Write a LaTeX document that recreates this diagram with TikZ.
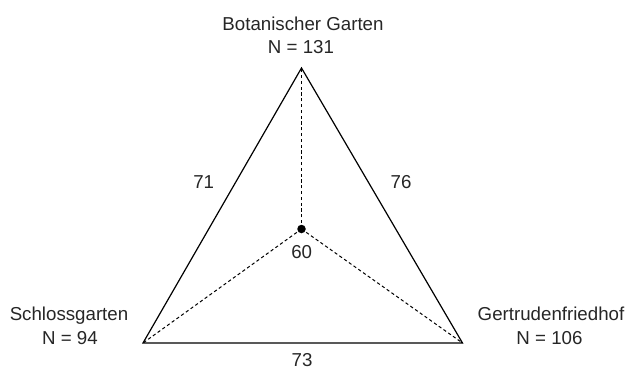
\documentclass[tikz,border=0pt]{standalone}
\usepackage{fontspec}
\setmainfont{Liberation Sans}
\begin{document}
\begin{tikzpicture}[x=1pt,y=-1pt,
  lbl/.style={anchor=base,inner sep=0pt,font=\fontsize{18.7}{23}\selectfont,text=black!85},
  edge/.style={line width=1.2pt,line join=miter},
  spoke/.style={line width=1pt,dash pattern=on 3.2pt off 2.6pt},
  dot/.style={circle,fill=black,inner sep=0pt,minimum size=8.5pt}]
\useasboundingbox (0,0) rectangle (629,370);
\coordinate (t) at (301.5,68);
\coordinate (l) at (143,343);
\coordinate (r) at (462.5,343);
\node[dot] (c) at (301.5,229) {};
\draw[spoke] (c.center) -- (t);
\draw[spoke] (c.center) -- (l);
\draw[spoke] (c.center) -- (r);
\draw[edge] (t) -- (l) -- (r) -- cycle;
\node[lbl] (bg1) at (303,30) {Botanischer Garten};
\node[lbl] (bg2) at (301,53.3) {N = 131};
\node[lbl] (sg1) at (69,320) {Schlossgarten};
\node[lbl] (sg2) at (70,344) {N = 94};
\node[lbl] (gf1) at (551,320) {Gertrudenfriedhof};
\node[lbl] (gf2) at (549.5,344.5) {N = 106};
\node[lbl] (n71) at (203.7,188) {71};
\node[lbl] (n76) at (401,188) {76};
\node[lbl] (n60) at (301.7,258.3) {60};
\node[lbl] (n73) at (302,366) {73};
\end{tikzpicture}
\end{document}
